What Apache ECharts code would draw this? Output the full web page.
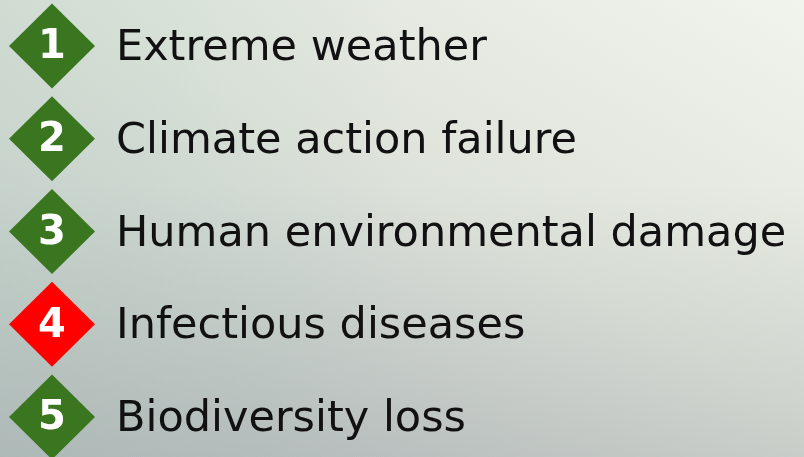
<!DOCTYPE html>
<html>
<head>
<meta charset="utf-8">
<script src="https://cdn.jsdelivr.net/npm/echarts@6/dist/echarts.min.js"></script>
<style>
html,body{margin:0;padding:0;}
#chart{width:804px;height:457px;
background:
 linear-gradient(to bottom, rgba(0,0,0,0) 40%, rgba(120,125,130,0.18) 100%),
 linear-gradient(to right, rgba(190,215,200,0.35) 0%, rgba(190,215,200,0) 50%),
 linear-gradient(to bottom left, #f0f4ed 0%, #dde2da 45%, #b7bec0 100%);}
</style>
</head>
<body>
<div id="chart"></div>
<script>
const items = ["Extreme weather", "Climate action failure", "Human environmental damage", "Infectious diseases", "Biodiversity loss"];
const ranks = [1, 2, 3, 4, 5];
const highlighted = [false, false, false, true, false];
const greenColor = "#3a7520";
const redColor = "#ff0000";

const chart = echarts.init(document.getElementById('chart'), null, {renderer: 'canvas'});
const diamondData = items.map((name, i) => ({
  value: [0, name],
  rank: ranks[i],
  itemStyle: {color: highlighted[i] ? redColor : greenColor, opacity: 1}
}));
const textData = items.map((name) => ({value: [0, name], name: name}));

chart.setOption({
  backgroundColor: 'transparent',
  animation: false,
  grid: {left: 52, right: 20, top: 46, bottom: 40},
  xAxis: {type: 'value', min: 0, max: 100, show: false},
  yAxis: {type: 'category', data: items, inverse: true, boundaryGap: false, show: false},
  series: [
    {
      type: 'scatter',
      symbol: 'diamond',
      symbolSize: [86, 85],
      itemStyle: {opacity: 1},
      data: diamondData,
      label: {
        show: true, position: 'inside', offset: [0, 2],
        formatter: p => String(p.data.rank),
        color: '#ffffff', fontFamily: 'DejaVu Sans', fontWeight: 'bold', fontSize: 40
      },
      z: 2
    },
    {
      type: 'scatter',
      symbolSize: 0,
      itemStyle: {opacity: 1},
      data: textData,
      label: {
        show: true, position: 'right', distance: 64, offset: [0, 3],
        formatter: p => p.data.name,
        color: '#111111', fontFamily: 'DejaVu Sans', fontSize: 43
      },
      z: 3
    }
  ]
});
</script>
</body>
</html>
